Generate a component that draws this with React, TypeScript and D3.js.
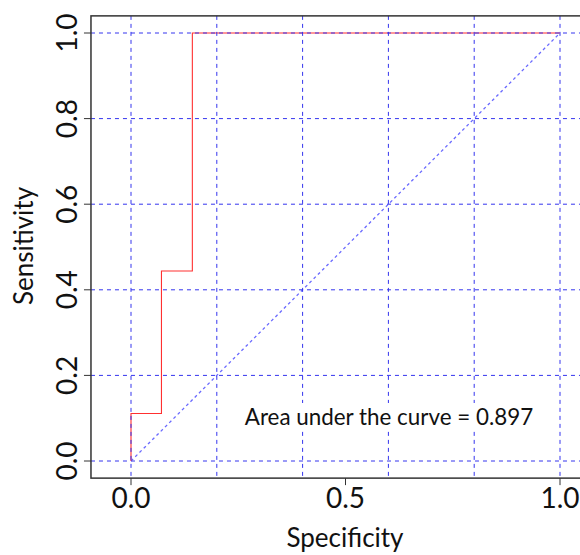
import React from "react";
import * as d3 from "d3";

const specificity = [0, 0, 0.071, 0.071, 0.143, 0.143, 1.0];
const sensitivity = [0, 0.111, 0.111, 0.444, 0.444, 1.0, 1.0];
const xTicks = [0, 0.5, 1.0];
const yTicks = [0, 0.2, 0.4, 0.6, 0.8, 1.0];
const gridVals = [0, 0.2, 0.4, 0.6, 0.8, 1.0];
const aucLabel = "Area under the curve = 0.897";

const W = 580, H = 555;
const FONT = "Lato, 'Open Sans', sans-serif";

export default function App() {
  const x = d3.scaleLinear().domain([0, 1]).range([131, 560]);
  const y = d3.scaleLinear().domain([0, 1]).range([461, 33]);
  const box = { l: x(-0.0933), r: x(1.0933), t: y(1.04), b: y(-0.04) };
  const line = d3.line<number>().x((_, i) => x(specificity[i])).y((_, i) => y(sensitivity[i])).curve(d3.curveLinear);
  const pts = specificity.map((_, i) => i);
  const fmt = d3.format(".1f");
  return (
    <svg width={W} height={H} style={{ position: "absolute", left: 0, top: 0, background: "white" }}>
      <rect x={0} y={0} width={W} height={H} fill="white" />
      {/* diagonal */}
      <line x1={x(0)} y1={y(0)} x2={x(1)} y2={y(1)} stroke="#6a6aff" strokeWidth={1.3} strokeDasharray="3,3" />
      {/* ROC curve */}
      <path d={line(pts) || ""} fill="none" stroke="#ff3030" strokeWidth={1.1} />
      {/* grid */}
      {gridVals.map((v) => (
        <line key={"gx" + v} x1={x(v)} x2={x(v)} y1={box.t} y2={box.b} stroke="#3434ee" strokeWidth={1} strokeDasharray="4,4" />
      ))}
      {gridVals.map((v) => (
        <line key={"gy" + v} y1={y(v)} y2={y(v)} x1={box.l} x2={box.r} stroke="#3434ee" strokeWidth={1} strokeDasharray="4,4" />
      ))}
      {/* AUC label */}
      <rect x={240} y={403} width={298} height={28} fill="white" />
      <text x={389} y={425} textAnchor="middle" fontFamily={FONT} fontSize={22.4} fill="#111">{aucLabel}</text>
      {/* box */}
      <rect x={box.l} y={box.t} width={box.r - box.l} height={box.b - box.t} fill="none" stroke="#333" strokeWidth={1.5} />
      {/* x axis */}
      {xTicks.map((v) => (
        <g key={"xt" + v}>
          <line x1={x(v)} x2={x(v)} y1={box.b} y2={box.b + 7} stroke="#333" />
          <text x={x(v)} y={508} textAnchor="middle" fontFamily={FONT} fontSize={28} fill="#111">{fmt(v)}</text>
        </g>
      ))}
      {yTicks.map((v) => (
        <g key={"yt" + v}>
          <line x1={box.l} x2={box.l - 7} y1={y(v)} y2={y(v)} stroke="#333" />
          <text transform={`translate(77,${y(v)}) rotate(-90)`} textAnchor="middle" fontFamily={FONT} fontSize={28} fill="#111">{fmt(v)}</text>
        </g>
      ))}
      <text x={345} y={547} textAnchor="middle" fontFamily={FONT} fontSize={26} fill="#111">Specificity</text>
      <text transform={`translate(33,246) rotate(-90)`} textAnchor="middle" fontFamily={FONT} fontSize={26} fill="#111">Sensitivity</text>
    </svg>
  );
}
